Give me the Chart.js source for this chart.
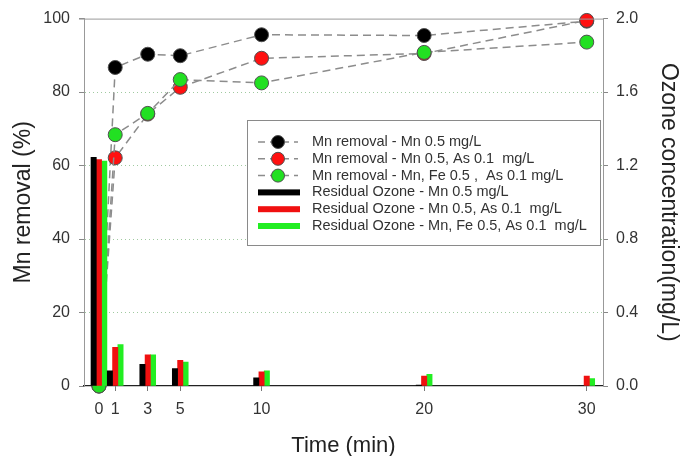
<!DOCTYPE html>
<html lang="en">
<head>
  <meta charset="UTF-8">
  <title>Mn removal and residual ozone</title>
  <style>
    body{ margin:0; background:#fff; }
    #wrap{ width:687px; height:456px; }
  </style>
</head>
<body>
  <div id="wrap">
    <canvas id="mychart" width="687" height="456"></canvas>
  </div>
  <script src="https://cdn.jsdelivr.net/npm/chart.js"></script>
  <script>
    // time points (min)
    const times = [0, 1, 3, 5, 10, 20, 30]

    // Mn removal (%) - left axis
    const removalMn = [0, 86.7, 90.3, 89.9, 95.6, 95.4, 99.3]
    const removalMnAs = [0, 62.1, 74.0, 81.3, 89.2, 90.5, 99.5]
    const removalMnFeAs = [0, 68.4, 74.2, 83.4, 82.5, 90.8, 93.6]

    // residual ozone (mg/L) - right axis
    const ozoneMn = [1.245, 0.082, 0.118, 0.095, 0.045, 0.005, 0]
    const ozoneMnAs = [1.232, 0.21, 0.17, 0.14, 0.077, 0.054, 0.054]
    const ozoneMnFeAs = [1.225, 0.225, 0.17, 0.13, 0.082, 0.064, 0.041]

    const leftTicks = [0, 20, 40, 60, 80, 100]
    const rightTicks = [0, 0.4, 0.8, 1.2, 1.6, 2.0]

    const toXY = arr => times.map((t, i) => ({x: t, y: arr[i]}))

    function removalSet(label, data, fill, order){
      return {
        type: 'line', label: label, data: toXY(data), yAxisID: 'y',
        borderColor: '#8c8c8c', borderWidth: 1.5, borderDash: [8, 5],
        pointRadius: 7, pointBackgroundColor: fill,
        pointBorderColor: '#505050', pointBorderWidth: 1,
        order: order, clip: false
      }
    }
    function ozoneSet(label, data, fill){
      return {
        type: 'bar', label: label, data: toXY(data), yAxisID: 'y2',
        backgroundColor: fill, barThickness: 5.3, order: 0
      }
    }

    // legend drawn inside the plot, like the original
    const boxLegend = {
      id: 'boxLegend',
      afterDraw(chart){
        const c = chart.ctx
        const area = chart.chartArea
        c.save()
        // top frame line
        c.strokeStyle = '#999'
        c.lineWidth = 1
        c.beginPath()
        c.moveTo(area.left - 5, area.top + 0.5)
        c.lineTo(area.right, area.top + 0.5)
        c.stroke()

        // legend box
        c.fillStyle = '#fff'
        c.fillRect(247, 120, 353, 125)
        c.strokeStyle = '#8a8a8a'
        c.strokeRect(247.5, 120.5, 353, 125)

        c.font = '14.5px "Liberation Sans", Arial, sans-serif'
        c.textBaseline = 'middle'
        chart.data.datasets.forEach((ds, i) => {
          const y = 142 + i * 16.8
          if(ds.type === 'line'){
            c.strokeStyle = ds.borderColor
            c.lineWidth = 1.5
            c.setLineDash([7, 5])
            c.beginPath(); c.moveTo(258, y); c.lineTo(298, y); c.stroke()
            c.setLineDash([])
            c.beginPath(); c.arc(278, y, 6.5, 0, Math.PI * 2)
            c.fillStyle = ds.pointBackgroundColor; c.fill()
            c.strokeStyle = ds.pointBorderColor; c.lineWidth = 1; c.stroke()
          }else{
            c.fillStyle = ds.backgroundColor
            c.fillRect(258, y - 3, 42, 6)
          }
          c.fillStyle = '#333'
          c.fillText(ds.label, 312, y)
        })
        c.restore()
      }
    }

    const fam = '"Liberation Sans", Arial, sans-serif'
    const tickFont = {family: fam, size: 16}

    new Chart(document.getElementById('mychart'), {
      type: 'bar',
      data: {
        datasets: [
          removalSet('Mn removal - Mn 0.5 mg/L', removalMn, '#000000', 3),
          removalSet('Mn removal - Mn 0.5, As 0.1  mg/L', removalMnAs, '#ff1010', 2),
          removalSet('Mn removal - Mn, Fe 0.5 ,  As 0.1 mg/L', removalMnFeAs, '#22e022', 1),
          ozoneSet('Residual Ozone - Mn 0.5 mg/L', ozoneMn, '#000000'),
          ozoneSet('Residual Ozone - Mn 0.5, As 0.1  mg/L', ozoneMnAs, '#f01010'),
          ozoneSet('Residual Ozone - Mn, Fe 0.5, As 0.1  mg/L', ozoneMnFeAs, '#22ee22')
        ]
      },
      options: {
        responsive: false,
        animation: false,
        layout: { padding: {top: 13, left: 0, right: 0, bottom: 0} },
        plugins: { legend: {display: false}, tooltip: {enabled: false} },
        scales: {
          x: {
            type: 'linear', position: 'bottom', min: -0.92, max: 31, offset: false,
            afterBuildTicks: axis => { axis.ticks = times.map(v => ({value: v})) },
            afterFit: axis => { axis.height = 70 },
            ticks: { font: tickFont, color: '#333', padding: 9, maxRotation: 0, autoSkip: false },
            grid: { offset: false, drawOnChartArea: false, drawTicks: true, tickLength: 5, tickColor: '#777' },
            border: { color: '#222', width: 1.3 },
            title: { display: true, text: 'Time (min)', font: {family: fam, size: 22}, color: '#222', padding: {top: 0, bottom: -3} }
          },
          y: {
            position: 'left', min: 0, max: 100,
            afterBuildTicks: axis => { axis.ticks = leftTicks.map(v => ({value: v})) },
            afterFit: axis => { axis.width = 84 },
            ticks: { font: tickFont, color: '#333', padding: 9 },
            grid: {
              color: ctx => (ctx.tick && (ctx.tick.value === 0 || ctx.tick.value === 100)) ? 'rgba(0,0,0,0)' : 'rgba(120,180,120,0.7)',
              tickColor: '#888', tickLength: 5
            },
            border: { color: '#999', width: 1, dash: [1, 3] },
            title: { display: true, text: 'Mn removal (%)', font: {family: fam, size: 23}, color: '#222', padding: {top: 10, bottom: 0} }
          },
          y2: {
            position: 'right', min: 0, max: 2,
            afterBuildTicks: axis => { axis.ticks = rightTicks.map(v => ({value: v})) },
            afterFit: axis => { axis.width = 84 },
            ticks: { font: tickFont, color: '#333', padding: 8, callback: v => v.toFixed(1) },
            grid: { drawOnChartArea: false, tickColor: '#888', tickLength: 5 },
            border: { color: '#999', width: 1 },
            title: { display: true, text: 'Ozone concentration(mg/L)', font: {family: fam, size: 23}, color: '#222', padding: {top: 5, bottom: 0} }
          }
        }
      },
      plugins: [boxLegend]
    });
  </script>
</body>
</html>
